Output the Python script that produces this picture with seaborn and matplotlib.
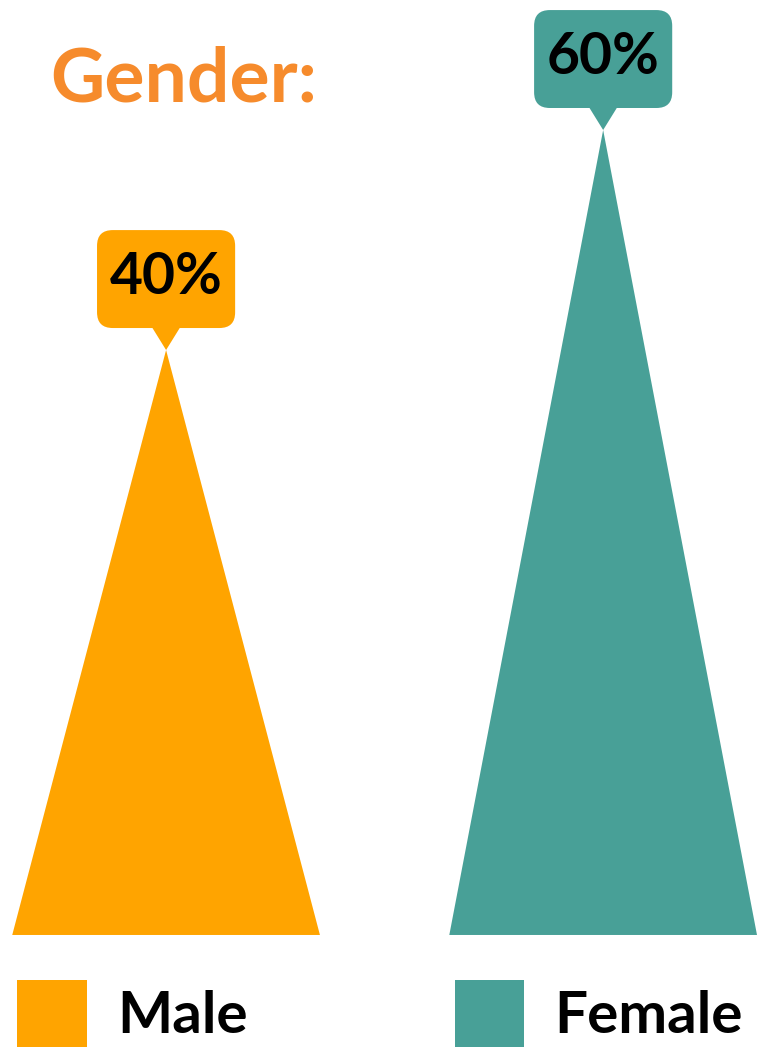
import seaborn as sns
import matplotlib.pyplot as plt
import pandas as pd
from matplotlib.patches import Polygon, Rectangle, FancyBboxPatch

# data
genders = ['Male', 'Female']
shares = [40, 60]                 # printed values (%)
spike_heights = [43.6, 60]        # apex heights as drawn in the picture
colors = ['#FFA400', '#48A097']
title_color = '#F68B2C'

sns.set_theme(style='white')
plt.rcParams['font.family'] = ['Lato', 'DejaVu Sans']

df = pd.DataFrame({'gender': genders, 'height': spike_heights})

fig = plt.figure(figsize=(7.57, 10.47), dpi=100)
ax = fig.add_axes([0, 0, 1, 1])

# bars give category positions/widths, then get swapped for triangles
sns.barplot(data=df, x='gender', y='height', hue='gender', palette=colors,
            width=0.704, legend=False, ax=ax)

xlim = (-0.380, 1.352)
ylim = (-8.35, 69.69)
# x-unit / y-unit in pixels, so the rounded corners stay round
aspect = (757 / (xlim[1] - xlim[0])) / (1047 / (ylim[1] - ylim[0]))

for patch, col, val, name in zip(ax.patches[:len(genders)], colors, shares, genders):
    x0, w, h = patch.get_x(), patch.get_width(), patch.get_height()
    xc = x0 + w / 2
    patch.set_visible(False)
    ax.add_patch(Polygon([(x0, 0), (x0 + w, 0), (xc, h)], closed=True,
                         fc=col, ec='none', zorder=2))
    # callout: pointer + rounded box + value
    ax.add_patch(Polygon([(xc - 0.038, h + 2.0), (xc + 0.038, h + 2.0), (xc, h)],
                         closed=True, fc=col, ec='none', zorder=3))
    ax.add_patch(FancyBboxPatch((xc - 0.158, h + 1.64), 0.316, 7.3,
                                boxstyle='round,pad=0,rounding_size=0.036',
                                mutation_aspect=aspect, fc=col, ec='none', zorder=3))
    ax.text(xc, h + 5.4, f'{val}%', ha='center', va='center', fontsize=41,
            fontweight='bold', color='black', zorder=5)
    # legend square + name
    ax.add_patch(Rectangle((x0 + 0.012, -9.5), 0.16, 6.15, fc=col, ec='none',
                           clip_on=False, zorder=2))
    ax.text(x0 + 0.24, -7.3, name, ha='left', va='baseline', fontsize=42,
            fontweight='bold', color='black')

ax.text(-0.265, 63.7, 'Gender:', ha='left', va='center', fontsize=54,
        fontweight='bold', color=title_color)

ax.set_xlim(*xlim)
ax.set_ylim(*ylim)
ax.axis('off')

fig.savefig('out.png', dpi=100)
